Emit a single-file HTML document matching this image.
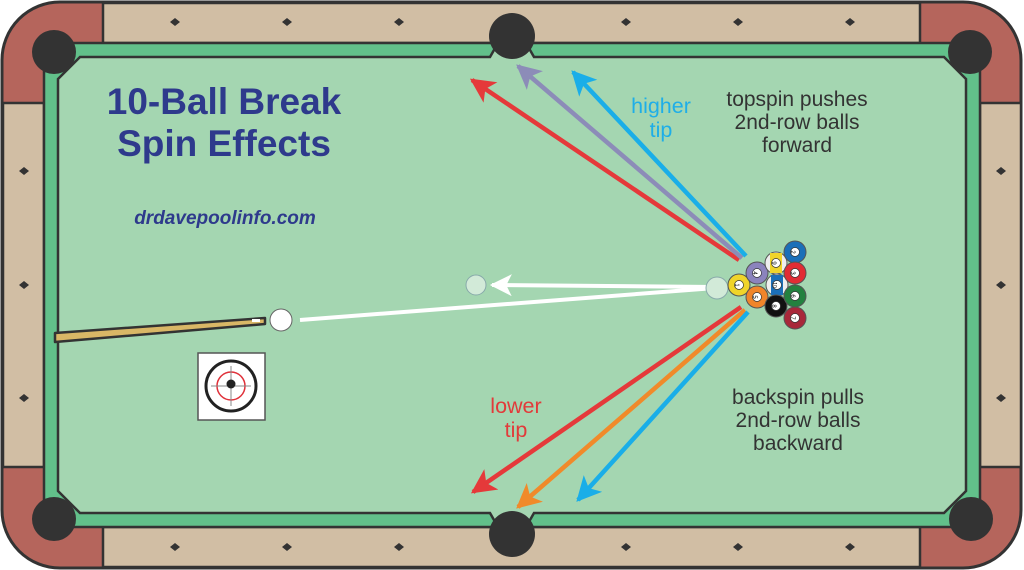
<!DOCTYPE html>
<html><head><meta charset="utf-8"><style>
html,body{margin:0;padding:0;background:#fff;width:1024px;height:570px;overflow:hidden}
svg{display:block}
text{font-family:"Liberation Sans",Arial,sans-serif}
</style></head><body>
<svg width="1024" height="570" viewBox="0 0 1024 570" xmlns="http://www.w3.org/2000/svg">
<defs>
<marker id="ar" viewBox="0 0 10 10" refX="9" refY="5" markerWidth="5.5" markerHeight="5.5" orient="auto" markerUnits="strokeWidth"><path d="M0,0 L10,5 L0,10 L2.5,5 z" fill="context-stroke"/></marker>
<path id="dm" d="M-5,0 L0,-4 L5,0 L0,4z"/>
</defs>
<rect x="2" y="2" width="1019" height="566" rx="58" fill="#b5655c" stroke="#333" stroke-width="3"/>
<rect x="103" y="3" width="817" height="40" fill="#d1bea4" stroke="#333" stroke-width="2.5"/>
<rect x="103" y="527" width="817" height="40" fill="#d1bea4" stroke="#333" stroke-width="2.5"/>
<rect x="3" y="103" width="41" height="364" fill="#d1bea4" stroke="#333" stroke-width="2.5"/>
<rect x="980" y="103" width="41" height="364" fill="#d1bea4" stroke="#333" stroke-width="2.5"/>
<rect x="44" y="43" width="936" height="484" fill="#62c08a" stroke="#333" stroke-width="2.5"/>
<polygon points="80,57 490,57 498,43 526,43 534,57 944,57 966,79 966,491 944,513 534,513 526,527 498,527 490,513 80,513 58,491 58,79" fill="#a4d6b1" stroke="#333" stroke-width="2.5"/>
<circle cx="54" cy="52" r="22" fill="#333"/>
<circle cx="970" cy="52" r="22" fill="#333"/>
<circle cx="54" cy="519" r="22" fill="#333"/>
<circle cx="971" cy="519" r="22" fill="#333"/>
<circle cx="512" cy="36" r="23" fill="#333"/>
<circle cx="512" cy="534" r="23" fill="#333"/>
<g fill="#333">
<use href="#dm" x="175" y="22"/><use href="#dm" x="287" y="22"/><use href="#dm" x="399" y="22"/><use href="#dm" x="626" y="22"/><use href="#dm" x="738" y="22"/><use href="#dm" x="850" y="22"/>
<use href="#dm" x="175" y="547"/><use href="#dm" x="287" y="547"/><use href="#dm" x="399" y="547"/><use href="#dm" x="626" y="547"/><use href="#dm" x="738" y="547"/><use href="#dm" x="850" y="547"/>
<use href="#dm" x="24" y="171"/><use href="#dm" x="24" y="285"/><use href="#dm" x="24" y="398"/>
<use href="#dm" x="1001" y="171"/><use href="#dm" x="1001" y="285"/><use href="#dm" x="1001" y="398"/>
</g>
<text x="224" y="114" text-anchor="middle" font-size="37" font-weight="bold" fill="#2e3a8c">10-Ball Break</text>
<text x="224" y="156" text-anchor="middle" font-size="37" font-weight="bold" fill="#2e3a8c">Spin Effects</text>
<text x="225" y="224" text-anchor="middle" font-size="19" font-weight="bold" font-style="italic" fill="#2e3a8c">drdavepoolinfo.com</text>
<g font-size="21" fill="#333" text-anchor="middle">
<text x="797" y="106">topspin pushes</text><text x="797" y="129">2nd-row balls</text><text x="797" y="152">forward</text>
<text x="798" y="404">backspin pulls</text><text x="798" y="427">2nd-row balls</text><text x="798" y="450">backward</text>
</g>
<text x="661" y="113" text-anchor="middle" font-size="21.5" fill="#1eaee8">higher</text>
<text x="661" y="137" text-anchor="middle" font-size="21.5" fill="#1eaee8">tip</text>
<text x="516" y="413" text-anchor="middle" font-size="21.5" fill="#e23a3a">lower</text>
<text x="516" y="437" text-anchor="middle" font-size="21.5" fill="#e23a3a">tip</text>
<g stroke-width="4.5" fill="none" marker-end="url(#ar)">
<line x1="739" y1="260" x2="472" y2="80" stroke="#e5393a"/>
<line x1="742" y1="258" x2="518" y2="66" stroke="#8c8cb8"/>
<line x1="746" y1="256" x2="573" y2="72" stroke="#1aaee8"/>
<line x1="741" y1="307" x2="473" y2="492" stroke="#e5393a"/>
<line x1="745" y1="310" x2="518" y2="507" stroke="#f08a2a"/>
<line x1="748" y1="312" x2="578" y2="500" stroke="#1aaee8"/>
</g>
<polygon points="55,333 265,318 265,324 55,342" fill="#d9b766" stroke="#333" stroke-width="2.5" stroke-linejoin="round"/>
<rect x="252" y="319" width="8" height="3" fill="#fff"/>
<line x1="300" y1="320" x2="715" y2="288" stroke="#fff" stroke-width="4"/>
<line x1="715" y1="287" x2="492" y2="285" stroke="#fff" stroke-width="4" marker-end="url(#ar)"/>
<circle cx="476" cy="285" r="10" fill="#d2ead8" stroke="#8aa" stroke-width="1"/>
<circle cx="281" cy="320" r="11" fill="#fff" stroke="#666" stroke-width="1"/>
<circle cx="717" cy="288" r="11" fill="#d2ead8" stroke="#8aa" stroke-width="1"/>
<g stroke="#555" stroke-width="1">
<circle cx="739" cy="285" r="11" fill="#f0d42a"/>
<circle cx="757" cy="273" r="11" fill="#8b83bd"/>
<circle cx="757" cy="297" r="11" fill="#f0852a"/>
<circle cx="776" cy="263" r="11" fill="#eee"/>
<rect x="770" y="253" width="12" height="20" fill="#f0d42a" stroke="none"/>
<circle cx="777" cy="285" r="11" fill="#eee"/>
<rect x="771" y="275" width="12" height="20" fill="#1b6fb8" stroke="none"/>
<circle cx="776" cy="306" r="11" fill="#111"/>
<circle cx="795" cy="252" r="11" fill="#1b6fb8"/>
<circle cx="795" cy="273" r="11" fill="#e12c34"/>
<circle cx="795" cy="296" r="11" fill="#23813f"/>
<circle cx="795" cy="318" r="11" fill="#a8283a"/>
</g>
<g fill="#fff" stroke="#333" stroke-width="0.7">
<circle cx="739" cy="285" r="4.5"/><circle cx="757" cy="273" r="4.5"/><circle cx="757" cy="297" r="4.5"/><circle cx="776" cy="263" r="4.5"/><circle cx="777" cy="285" r="4.5"/><circle cx="776" cy="306" r="4.5"/><circle cx="795" cy="252" r="4.5"/><circle cx="795" cy="273" r="4.5"/><circle cx="795" cy="296" r="4.5"/><circle cx="795" cy="318" r="4.5"/>
</g>
<g font-size="6" fill="#000" text-anchor="middle">
<text transform="translate(737,285) rotate(90)" y="2">1</text>
<text transform="translate(755,273) rotate(90)" y="2">4</text>
<text transform="translate(755,297) rotate(90)" y="2">5</text>
<text transform="translate(774,263) rotate(90)" y="2">9</text>
<text transform="translate(775,285) rotate(90)" y="2" font-size="5">10</text>
<text transform="translate(774,306) rotate(90)" y="2">8</text>
<text transform="translate(793,252) rotate(90)" y="2">2</text>
<text transform="translate(793,273) rotate(90)" y="2">3</text>
<text transform="translate(793,296) rotate(90)" y="2">6</text>
<text transform="translate(793,318) rotate(90)" y="2">7</text>
</g>
<rect x="198" y="353" width="67" height="67" fill="#fff" stroke="#555" stroke-width="1.5"/>
<circle cx="231" cy="386" r="25" fill="none" stroke="#222" stroke-width="3"/>
<circle cx="231" cy="386" r="14" fill="none" stroke="#e0313a" stroke-width="1.5"/>
<line x1="211" y1="386" x2="251" y2="386" stroke="#888" stroke-width="1"/>
<line x1="231" y1="366" x2="231" y2="406" stroke="#888" stroke-width="1"/>
<circle cx="231" cy="384" r="4.5" fill="#222"/>
</svg>
</body></html>
